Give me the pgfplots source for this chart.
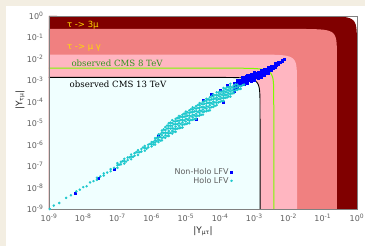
\documentclass[border=0pt]{standalone}
\usepackage{pgfplots}
\pgfplotsset{compat=1.18}
\usepackage{fontspec}
\setmainfont{DejaVu Sans}
\newfontfamily\seriffont{DejaVu Serif}
\definecolor{bgbeige}{RGB}{243,238,226}
\definecolor{cmaroon}{RGB}{128,0,0}
\definecolor{ccoral}{RGB}{240,128,128}
\definecolor{cpink}{RGB}{255,182,193}
\definecolor{cazure}{RGB}{240,255,255}
\definecolor{cgreenline}{RGB}{124,252,0}
\definecolor{cgreentext}{RGB}{50,150,30}
\definecolor{cyellow}{RGB}{255,220,0}
\definecolor{cblue}{RGB}{0,0,255}
\definecolor{ccyan}{RGB}{30,200,205}
\definecolor{ticktext}{RGB}{95,95,95}
\begin{document}
\begin{tikzpicture}[x=1pt,y=1pt]
\useasboundingbox (0,0) rectangle (365,246);
\fill[bgbeige] (0,0) rectangle (365,246);
\fill[white] (6,0) rectangle (365,240);
\begin{axis}[
  at={(49pt,37pt)}, anchor=south west,
  scale only axis, width=308pt, height=193pt,
  xmode=log, ymode=log,
  xmin=1e-9, xmax=1, ymin=1e-9, ymax=1,
  axis on top,
  axis line style={gray},
  tick style={draw=none},
  xtick={1e-9,1e-8,1e-7,1e-6,1e-5,1e-4,1e-3,1e-2,1e-1,1},
  ytick={1e-9,1e-8,1e-7,1e-6,1e-5,1e-4,1e-3,1e-2,1e-1,1},
  xticklabels={10\textsuperscript{-9},10\textsuperscript{-8},10\textsuperscript{-7},10\textsuperscript{-6},10\textsuperscript{-5},10\textsuperscript{-4},10\textsuperscript{-3},10\textsuperscript{-2},10\textsuperscript{-1},10\textsuperscript{0}},
  yticklabels={10\textsuperscript{-9},10\textsuperscript{-8},10\textsuperscript{-7},10\textsuperscript{-6},10\textsuperscript{-5},10\textsuperscript{-4},10\textsuperscript{-3},10\textsuperscript{-2},10\textsuperscript{-1},10\textsuperscript{0}},
  tick label style={font=\fontsize{8}{9}\selectfont, text=ticktext},
  xticklabel style={yshift=-2pt},
  yticklabel style={xshift=-2pt},
  legend style={at={(rel axis cs:0.6,0.168)}, anchor=east, draw=none, fill=none,
    font=\fontsize{8}{8}\selectfont, text=ticktext, row sep=-3pt, inner sep=1pt},
  legend cell align=right,
  legend plot pos=right,
]
% tau -> 3 mu (maroon)
\addplot[fill=cmaroon, draw=none, forget plot] coordinates {
(1e-9,1e-9) (1e-9,1) (0.1,0.995) (0.2,0.98) (0.3,0.954) (0.4,0.917) (0.5,0.866) (0.6,0.8) (0.7071,0.7071) (0.8,0.6) (0.866,0.5) (0.917,0.4) (0.954,0.3) (0.98,0.2) (0.995,0.1) (1,0.01) (1,1e-9)};
% tau -> mu gamma (light coral)
\addplot[fill=ccoral, draw=none, forget plot] coordinates {
(1e-9,1e-9) (1e-9,0.25) (0.026,0.249) (0.052,0.245) (0.078,0.2385) (0.104,0.229) (0.13,0.2165) (0.156,0.2) (0.184,0.177) (0.208,0.15) (0.225,0.125) (0.238,0.1) (0.248,0.075) (0.255,0.05) (0.259,0.025) (0.26,0.0025) (0.26,1e-9)};
% pink
\addplot[fill=cpink, draw=none, forget plot] coordinates {
(1e-9,1e-9) (1e-9,0.016) (0.00177,0.01592) (0.00354,0.01568) (0.00531,0.01526) (0.00708,0.01467) (0.00885,0.01386) (0.01062,0.0128) (0.01252,0.01131) (0.01416,0.0096) (0.01533,0.008) (0.01623,0.0064) (0.01689,0.0048) (0.01735,0.0032) (0.01761,0.0016) (0.0177,0.00016) (0.0177,1e-9)};
% observed CMS 13 TeV
\addplot[fill=cazure, draw=none, forget plot] coordinates {
(1e-9,1e-9) (1e-9,0.00137) (0.000147,0.0013632) (0.000294,0.0013426) (0.000441,0.001307) (0.000588,0.0012563) (0.000735,0.0011864) (0.000882,0.001096) (0.0010394,0.0009687) (0.001176,0.000822) (0.001273,0.000685) (0.001348,0.000548) (0.0014024,0.000411) (0.0014406,0.000274) (0.0014627,0.000137) (0.00147,1.37e-5) (0.00147,1e-9)};
\addplot[black, line width=0.9pt, forget plot] coordinates {
(1e-9,0.00137) (0.000147,0.0013632) (0.000294,0.0013426) (0.000441,0.001307) (0.000588,0.0012563) (0.000735,0.0011864) (0.000882,0.001096) (0.0010394,0.0009687) (0.001176,0.000822) (0.001273,0.000685) (0.001348,0.000548) (0.0014024,0.000411) (0.0014406,0.000274) (0.0014627,0.000137) (0.00147,1.37e-5) (0.00147,1e-9)};
% observed CMS 8 TeV
\addplot[cgreenline, line width=1pt, forget plot] coordinates {
(1e-9,0.0037) (0.00037,0.003682) (0.00074,0.003626) (0.00111,0.00353) (0.00148,0.00339) (0.00185,0.0032) (0.00222,0.00296) (0.002616,0.002616) (0.00296,0.00222) (0.0032,0.00185) (0.00339,0.00148) (0.00353,0.00111) (0.003626,0.00074) (0.00368,0.00037) (0.0037,3.7e-5) (0.0037,1e-9)};
% Non-Holo LFV
\addplot[only marks, mark=square*, mark size=1pt, color=cblue] coordinates {
(5.75e-9,5.5e-9) (2.69e-8,2.75e-8) (7.9e-8,7.2e-8) (1.55e-6,2.5e-6)
(3.162e-5,1.202e-4) (5.623e-5,2.239e-4) (1e-4,3.631e-4) (1.585e-4,5.754e-4) (1.259e-4,9.550e-5) (1.995e-5,1.514e-5)
(2.512e-4,3.162e-4) (2.512e-4,4.169e-4) (2.512e-4,5.495e-4) (2.512e-4,7.244e-4)
(3.162e-4,4.571e-4) (3.162e-4,6.026e-4) (3.162e-4,7.943e-4) (3.162e-4,1e-3)
(3.981e-4,6.026e-4) (3.981e-4,7.943e-4) (3.981e-4,1.047e-3)
(4.467e-4,7.762e-4) (4.467e-4,1.023e-3) (4.467e-4,1.349e-3)
(5.012e-4,6.607e-4) (5.012e-4,8.710e-4) (5.012e-4,1.148e-3) (5.012e-4,1.445e-3)
(5.623e-4,8.511e-4) (5.623e-4,1.122e-3) (5.623e-4,1.479e-3)
(6.310e-4,7.586e-4) (6.310e-4,1e-3) (6.310e-4,1.318e-3) (6.310e-4,1.738e-3)
(7.079e-4,9.772e-4) (7.079e-4,1.288e-3) (7.079e-4,1.698e-3)
(7.943e-4,8.710e-4) (7.943e-4,1.148e-3) (7.943e-4,1.514e-3) (7.943e-4,1.995e-3)
(8.913e-4,1.122e-3) (8.913e-4,1.479e-3) (8.913e-4,1.950e-3)
(1e-3,1.047e-3) (1e-3,1.380e-3) (1e-3,1.820e-3) (1e-3,2.291e-3)
(1.122e-3,1.349e-3) (1.122e-3,1.778e-3) (1.122e-3,2.239e-3)
(1.259e-3,1.259e-3) (1.259e-3,1.585e-3) (1.259e-3,1.995e-3) (1.259e-3,2.512e-3)
(1.413e-3,1.549e-3) (1.413e-3,1.950e-3) (1.413e-3,2.455e-3)
(1.585e-3,1.445e-3) (1.585e-3,1.820e-3) (1.585e-3,2.291e-3) (1.585e-3,2.884e-3)
(1.778e-3,1.778e-3) (1.778e-3,2.239e-3) (1.778e-3,2.818e-3)
(1.995e-3,1.738e-3) (1.995e-3,2.188e-3) (1.995e-3,2.754e-3) (1.995e-3,3.467e-3)
(2.239e-3,2.138e-3) (2.239e-3,2.692e-3) (2.239e-3,3.388e-3)
(2.512e-3,2.188e-3) (2.512e-3,2.754e-3) (2.512e-3,3.467e-3) (2.512e-3,4.169e-3)
(2.818e-3,2.818e-3) (2.818e-3,3.548e-3) (2.818e-3,4.266e-3)
(3.162e-3,2.884e-3) (3.162e-3,3.631e-3) (3.162e-3,4.571e-3)
(3.548e-3,3.715e-3) (3.548e-3,4.677e-3)
(3.981e-3,3.981e-3) (3.981e-3,5.012e-3) (3.981e-3,6.026e-3)
(4.467e-3,5.129e-3) (4.467e-3,6.166e-3)
(5.012e-3,5.495e-3) (5.012e-3,6.918e-3)
(5.623e-3,7.079e-3)
(6.310e-3,7.943e-3) (6.310e-3,9.120e-3)
(7.244e-3,1e-2)
};
\addlegendentry{Non-Holo LFV}
% Holo LFV
\addplot[only marks, mark=*, mark size=1.05pt, color=ccyan] coordinates {
(1.05e-9,1.0e-9) (1.380e-9,1.445e-9) (1.995e-9,1.905e-9) (3.162e-9,3.311e-9) (4.365e-9,4.365e-9) (6.310e-9,6.607e-9) (7.943e-9,7.943e-9)
(1e-8,1.047e-8) (1.259e-8,1.148e-8) (1.585e-8,1.738e-8) (1.995e-8,1.995e-8) (2.512e-8,2.884e-8) (2.512e-8,2.291e-8) (3.162e-8,3.311e-8) (3.981e-8,4.571e-8) (3.981e-8,3.631e-8) (5.012e-8,5.012e-8) (6.310e-8,7.244e-8) (6.310e-8,5.754e-8) (7.943e-8,8.318e-8)
(1e-7,8.318e-8) (1e-7,1.096e-7) (1e-7,1.380e-7) (1.122e-7,1.175e-7)
(1.259e-7,1.202e-7) (1.259e-7,1.585e-7) (1.413e-7,1.698e-7)
(1.585e-7,1.318e-7) (1.585e-7,1.738e-7) (1.585e-7,2.188e-7) (1.778e-7,1.622e-7)
(1.995e-7,1.905e-7) (1.995e-7,2.512e-7) (2.239e-7,2.570e-7)
(2.512e-7,2.089e-7) (2.512e-7,2.754e-7) (2.512e-7,3.467e-7) (2.818e-7,2.692e-7)
(3.162e-7,3.020e-7) (3.162e-7,3.981e-7) (3.548e-7,4.467e-7)
(3.981e-7,3.311e-7) (3.981e-7,4.365e-7) (3.981e-7,5.495e-7) (4.467e-7,4.467e-7)
(5.012e-7,4.786e-7) (5.012e-7,6.310e-7) (5.623e-7,7.413e-7)
(6.310e-7,5.248e-7) (6.310e-7,6.918e-7) (6.310e-7,8.710e-7) (7.079e-7,6.457e-7)
(7.943e-7,7.586e-7) (7.943e-7,1e-6) (8.913e-7,1.072e-6)
(1e-6,8.318e-7) (1e-6,1.047e-6) (1e-6,1.318e-6)
(1.122e-6,1.023e-6) (1.122e-6,1.349e-6)
(1.259e-6,1e-6) (1.259e-6,1.259e-6) (1.259e-6,1.585e-6) (1.259e-6,1.995e-6)
(1.413e-6,1.479e-6) (1.413e-6,2.042e-6)
(1.585e-6,1.318e-6) (1.585e-6,1.738e-6) (1.585e-6,2.291e-6) (1.585e-6,3.020e-6)
(1.778e-6,1.549e-6) (1.778e-6,2.239e-6) (1.778e-6,3.090e-6)
(1.995e-6,1.585e-6) (1.995e-6,2.089e-6) (1.995e-6,2.754e-6) (1.995e-6,3.631e-6) (1.995e-6,4.571e-6)
(2.239e-6,2.239e-6) (2.239e-6,3.548e-6) (2.239e-6,5.129e-6)
(2.512e-6,2.089e-6) (2.512e-6,2.754e-6) (2.512e-6,3.631e-6) (2.512e-6,4.786e-6) (2.512e-6,6.607e-6)
(2.818e-6,2.570e-6) (2.818e-6,3.548e-6) (2.818e-6,5.623e-6) (2.818e-6,7.762e-6)
(3.162e-6,2.512e-6) (3.162e-6,3.311e-6) (3.162e-6,4.365e-6) (3.162e-6,5.754e-6) (3.162e-6,7.586e-6) (3.162e-6,1e-5)
(3.548e-6,3.548e-6) (3.548e-6,5.623e-6) (3.548e-6,7.762e-6) (3.548e-6,1.072e-5)
(3.981e-6,3.311e-6) (3.981e-6,4.365e-6) (3.981e-6,5.754e-6) (3.981e-6,7.586e-6) (3.981e-6,1e-5) (3.981e-6,1.380e-5)
(4.467e-6,4.074e-6) (4.467e-6,5.623e-6) (4.467e-6,8.913e-6) (4.467e-6,1.230e-5)
(5.012e-6,3.981e-6) (5.012e-6,5.248e-6) (5.012e-6,6.918e-6) (5.012e-6,9.120e-6) (5.012e-6,1.202e-5) (5.012e-6,1.585e-5)
(5.623e-6,5.623e-6) (5.623e-6,8.913e-6) (5.623e-6,1.288e-5) (5.623e-6,1.778e-5)
(6.310e-6,5.754e-6) (6.310e-6,7.586e-6) (6.310e-6,1e-5) (6.310e-6,1.318e-5) (6.310e-6,1.738e-5) (6.310e-6,2.188e-5)
(7.079e-6,6.166e-6) (7.079e-6,9.333e-6) (7.079e-6,1.413e-5) (7.079e-6,2.042e-5)
(7.943e-6,6.310e-6) (7.943e-6,8.318e-6) (7.943e-6,1.096e-5) (7.943e-6,1.445e-5) (7.943e-6,1.905e-5) (7.943e-6,2.512e-5)
(8.913e-6,8.913e-6) (8.913e-6,1.349e-5) (8.913e-6,2.042e-5) (8.913e-6,2.818e-5)
(1e-5,9.120e-6) (1e-5,1.202e-5) (1e-5,1.585e-5) (1e-5,2.089e-5) (1e-5,2.754e-5) (1e-5,3.467e-5)
(1.122e-5,9.772e-6) (1.122e-5,1.479e-5) (1.122e-5,2.239e-5) (1.122e-5,3.236e-5)
(1.259e-5,1e-5) (1.259e-5,1.318e-5) (1.259e-5,1.738e-5) (1.259e-5,2.291e-5) (1.259e-5,3.020e-5) (1.259e-5,3.981e-5)
(1.413e-5,1.413e-5) (1.413e-5,2.138e-5) (1.413e-5,3.236e-5) (1.413e-5,4.467e-5)
(1.585e-5,1.445e-5) (1.585e-5,1.905e-5) (1.585e-5,2.512e-5) (1.585e-5,3.311e-5) (1.585e-5,4.365e-5) (1.585e-5,5.495e-5)
(1.778e-5,1.549e-5) (1.778e-5,2.344e-5) (1.778e-5,3.548e-5) (1.778e-5,5.129e-5)
(1.995e-5,1.585e-5) (1.995e-5,2.089e-5) (1.995e-5,2.754e-5) (1.995e-5,3.631e-5) (1.995e-5,4.786e-5) (1.995e-5,6.310e-5)
(2.239e-5,2.239e-5) (2.239e-5,3.388e-5) (2.239e-5,5.129e-5) (2.239e-5,7.079e-5)
(2.512e-5,2.291e-5) (2.512e-5,3.020e-5) (2.512e-5,3.981e-5) (2.512e-5,5.248e-5) (2.512e-5,6.918e-5) (2.512e-5,8.710e-5)
(2.818e-5,2.455e-5) (2.818e-5,3.715e-5) (2.818e-5,5.623e-5) (2.818e-5,8.128e-5)
(3.162e-5,2.512e-5) (3.162e-5,3.311e-5) (3.162e-5,4.365e-5) (3.162e-5,5.754e-5) (3.162e-5,7.586e-5) (3.162e-5,1e-4)
(3.548e-5,3.548e-5) (3.548e-5,5.370e-5) (3.548e-5,8.128e-5) (3.548e-5,1.122e-4)
(3.981e-5,3.631e-5) (3.981e-5,4.786e-5) (3.981e-5,6.310e-5) (3.981e-5,8.318e-5) (3.981e-5,1.096e-4) (3.981e-5,1.380e-4)
(4.467e-5,3.890e-5) (4.467e-5,5.888e-5) (4.467e-5,8.913e-5) (4.467e-5,1.288e-4)
(5.012e-5,3.981e-5) (5.012e-5,5.248e-5) (5.012e-5,6.918e-5) (5.012e-5,9.120e-5) (5.012e-5,1.202e-4) (5.012e-5,1.585e-4)
(5.623e-5,5.623e-5) (5.623e-5,8.511e-5) (5.623e-5,1.288e-4) (5.623e-5,1.778e-4)
(6.310e-5,5.754e-5) (6.310e-5,7.586e-5) (6.310e-5,1e-4) (6.310e-5,1.318e-4) (6.310e-5,1.738e-4) (6.310e-5,2.188e-4)
(7.079e-5,6.457e-5) (7.079e-5,9.333e-5) (7.079e-5,1.413e-4) (7.079e-5,2.042e-4)
(7.943e-5,6.918e-5) (7.943e-5,9.120e-5) (7.943e-5,1.202e-4) (7.943e-5,1.585e-4) (7.943e-5,2.089e-4) (7.943e-5,2.754e-4)
(8.913e-5,9.333e-5) (8.913e-5,1.349e-4) (8.913e-5,1.950e-4) (8.913e-5,2.692e-4)
(1e-4,1e-4) (1e-4,1.318e-4) (1e-4,1.738e-4) (1e-4,2.291e-4) (1e-4,3.020e-4)
(1.122e-4,1.072e-4) (1.122e-4,1.479e-4) (1.122e-4,2.138e-4) (1.122e-4,2.951e-4)
(1.259e-4,1.096e-4) (1.259e-4,1.445e-4) (1.259e-4,1.905e-4) (1.259e-4,2.512e-4) (1.259e-4,3.311e-4) (1.259e-4,4.365e-4)
(1.413e-4,1.549e-4) (1.413e-4,2.138e-4) (1.413e-4,2.951e-4) (1.413e-4,4.074e-4)
(1.585e-4,1.585e-4) (1.585e-4,2.089e-4) (1.585e-4,2.754e-4) (1.585e-4,3.631e-4) (1.585e-4,4.786e-4)
(1.778e-4,1.778e-4) (1.778e-4,2.455e-4) (1.778e-4,3.388e-4) (1.778e-4,4.677e-4)
(1.995e-4,1.738e-4) (1.995e-4,2.291e-4) (1.995e-4,3.020e-4) (1.995e-4,3.981e-4) (1.995e-4,5.248e-4) (1.995e-4,6.918e-4)
(2.239e-4,2.455e-4) (2.239e-4,3.388e-4) (2.239e-4,4.677e-4)
(2.512e-4,2.512e-4) (2.512e-4,3.311e-4) (2.512e-4,4.365e-4) (2.512e-4,5.754e-4)
(2.818e-4,3.388e-4) (2.818e-4,4.677e-4) (2.818e-4,6.457e-4)
(3.162e-4,3.631e-4) (3.162e-4,4.786e-4) (3.162e-4,6.310e-4)
(3.548e-4,3.890e-4) (3.548e-4,5.370e-4)
(3.981e-4,3.981e-4) (3.981e-4,5.248e-4)
(4.467e-4,5.888e-4)
(5.012e-4,6.310e-4)
};
\addlegendentry{Holo LFV}
\node[text=cyellow, font=\fontsize{8.5}{9}\selectfont] at (rel axis cs:0.11,0.953) {τ -> 3μ};
\node[text=cyellow, font=\fontsize{8.5}{9}\selectfont] at (rel axis cs:0.114,0.834) {τ -> μ γ};
\node[text=cgreentext, font=\seriffont\fontsize{8.6}{9}\selectfont] at (rel axis cs:0.221,0.756) {observed CMS 8 TeV};
\node[text=black, font=\seriffont\fontsize{8.6}{9}\selectfont] at (rel axis cs:0.224,0.648) {observed CMS 13 TeV};
\end{axis}
\node[font=\fontsize{9}{10}\selectfont, text=black!85] at (203,15) {|Y\textsubscript{μτ}|};
\node[font=\fontsize{9}{10}\selectfont, text=black!85, rotate=90] at (20,146) {|Y\textsubscript{τμ}|};
\end{tikzpicture}
\end{document}
